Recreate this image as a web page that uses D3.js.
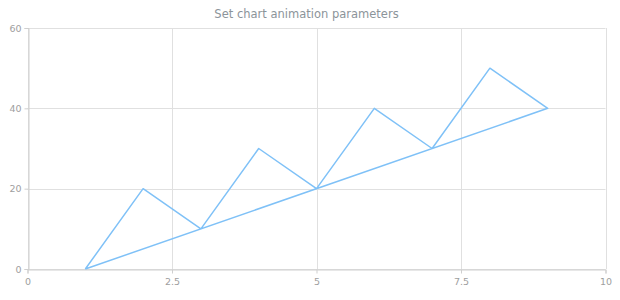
<!DOCTYPE html>
<html><head><meta charset="utf-8">
<script src="https://cdn.jsdelivr.net/npm/d3@7"></script>
<style>body{margin:0;background:#fff}svg{display:block}text{font-family:"DejaVu Sans",Verdana,sans-serif}</style>
</head><body>
<svg id="c" width="620" height="300"></svg>
<script>
const title = "Set chart animation parameters";
const xValues = [1, 2, 3, 4, 5, 6, 7, 8, 9, 1];
const yValues = [0, 20, 10, 30, 20, 40, 30, 50, 40, 0];
const xTicks = [0, 2.5, 5, 7.5, 10];
const yTicks = [0, 20, 40, 60];

const svg = d3.select("#c");
const m = {l: 27.5, r: 14.5, t: 28, b: 31};
const W = 620, H = 300;
const x = d3.scaleLinear().domain([0, 10]).range([m.l, W - m.r]);
const y = d3.scaleLinear().domain([0, 60]).range([H - m.b, m.t]);

svg.append("text").attr("x", 306.5).attr("y", 18).attr("text-anchor", "middle")
  .attr("font-size", 11.5).attr("fill", "#8c949a").text(title);

const g = svg.append("g");
g.selectAll(".hg").data(yTicks).join("line")
  .attr("x1", x(0)).attr("x2", x(10)).attr("y1", d => Math.round(y(d)) + 0.5).attr("y2", d => Math.round(y(d)) + 0.5)
  .attr("stroke", "#e0e0e0");
g.selectAll(".vg").data(xTicks).join("line")
  .attr("y1", y(60)).attr("y2", y(0)).attr("x1", d => Math.round(x(d)) + 0.5).attr("x2", d => Math.round(x(d)) + 0.5)
  .attr("stroke", "#e0e0e0");

const yAxis = d3.axisLeft(y).tickValues(yTicks).tickSize(4).tickPadding(3).tickFormat(d3.format("d"));
const ya = svg.append("g").attr("transform", `translate(${Math.round(x(0)) + 0.5},0)`).call(yAxis);
const xAxis = d3.axisBottom(x).tickValues(xTicks).tickSize(4).tickPadding(5).tickFormat(d => String(d));
const xa = svg.append("g").attr("transform", `translate(0,${Math.round(y(0)) + 0.5})`).call(xAxis);
[ya, xa].forEach(a => {
  a.select(".domain").attr("stroke", "#cfcfcf");
  a.selectAll(".tick line").attr("stroke", "#cfcfcf");
  a.selectAll(".tick text").attr("fill", "#9e9e9e").attr("font-size", 9.5).attr("font-family", '"DejaVu Sans",Verdana,sans-serif');
});

const pts = xValues.map((v, i) => [v, yValues[i]]);
svg.append("path").datum(pts)
  .attr("d", d3.line().x(d => x(d[0])).y(d => y(d[1])))
  .attr("fill", "none").attr("stroke", "#7fc1f7").attr("stroke-width", 1.5).attr("stroke-linejoin", "round");
</script>
</body></html>
